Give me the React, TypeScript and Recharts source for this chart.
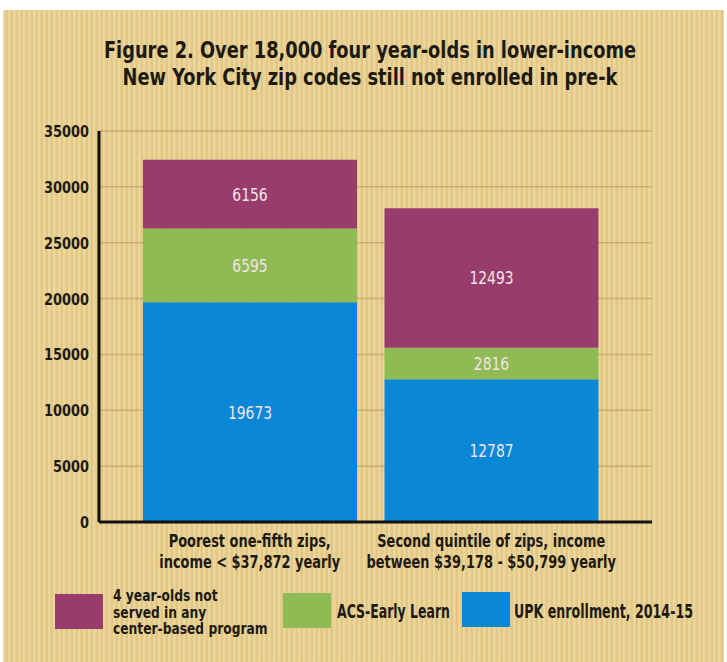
import React from "react";
import {
  BarChart,
  Bar,
  XAxis,
  YAxis,
  CartesianGrid,
  LabelList,
} from "recharts";

// Zip code groups (x categories), two-line labels
const categories = ["Poorest one-fifth zips", "Second quintile of zips"];
const categoryLines = [
  ["Poorest one-fifth zips,", "income < $37,872 yearly"],
  ["Second quintile of zips, income", "between $39,178 - $50,799 yearly"],
];

// Stacked series, bottom to top
const upkEnrollment = [19673, 12787];
const acsEarlyLearn = [6595, 2816];
const notServed = [6156, 12493];

const yTicks = [0, 5000, 10000, 15000, 20000, 25000, 30000, 35000];

const titleLines = [
  "Figure 2. Over 18,000 four year-olds in lower-income",
  "New York City zip codes still not enrolled in pre-k",
];

const FONT = "'DejaVu Sans Condensed', 'DejaVu Sans', sans-serif";
const INK = "#1d1a14";
const PURPLE = "#983d6b";
const GREEN = "#8fbb55";
const BLUE = "#0b88d5";

const chartData = categories.map((name, i) => ({
  name,
  upk: upkEnrollment[i],
  acs: acsEarlyLearn[i],
  notServed: notServed[i],
}));

// the original uses a condensed face, so glyphs get squeezed horizontally
function CategoryTick(props: any) {
  const { x, y, index } = props;
  const lines = categoryLines[index] || [];
  return (
    <g transform={`translate(${x},${y + 17}) scale(0.8,1)`}>
      <text x={0} y={0} textAnchor="middle" fill={INK} fontFamily={FONT} fontWeight="bold" fontSize={18}>
        {lines.map((line, i) => (
          <tspan key={i} x={0} dy={i === 0 ? 0 : 21}>
            {line}
          </tspan>
        ))}
      </text>
    </g>
  );
}

function ValueTick(props: any) {
  const { x, y, payload } = props;
  return (
    <g transform={`translate(${x},${y}) scale(0.87,1)`}>
      <text x={0} y={0} dy="0.36em" textAnchor="end" fill={INK} fontFamily={FONT} fontWeight="bold" fontSize={16.5}>
        {payload.value}
      </text>
    </g>
  );
}

function SegmentLabel(props: any) {
  const { x, y, width, height, value } = props;
  return (
    <g transform={`translate(${x + width / 2},${y + height / 2}) scale(0.86,1)`}>
      <text x={0} y={0} dy="0.36em" textAnchor="middle" fill="#f1e4e8" fontFamily={FONT} fontSize={18}>
        {value}
      </text>
    </g>
  );
}

const legendItems = [
  { key: "notServed", color: PURPLE, lines: ["4 year-olds not", "served in any", "center-based program"] },
  { key: "acs", color: GREEN, lines: ["ACS-Early Learn"] },
  { key: "upk", color: BLUE, lines: ["UPK enrollment, 2014-15"] },
];
const legendSwatch = [
  { left: 55, top: 594, textLeft: 113, textTop: 588, size: 15.5, lh: 16.5, sx: 0.88 },
  { left: 283, top: 593, textLeft: 337, textTop: 601, size: 19, lh: 20, sx: 0.73 },
  { left: 462, top: 592, textLeft: 514, textTop: 601, size: 19, lh: 20, sx: 0.74 },
];

function ChartLegend() {
  return (
    <>
      {legendItems.map((item, i) => {
        const p = legendSwatch[i];
        return (
          <React.Fragment key={item.key}>
            <div
              style={{
                position: "absolute",
                left: p.left,
                top: p.top,
                width: 48,
                height: 35,
                background: item.color,
              }}
            />
            <div
              style={{
                position: "absolute",
                left: p.textLeft,
                top: p.textTop,
                whiteSpace: "nowrap",
                fontFamily: FONT,
                fontWeight: "bold",
                fontSize: p.size,
                lineHeight: `${p.lh}px`,
                color: INK,
                transform: `scaleX(${p.sx})`,
                transformOrigin: "0 0",
              }}
            >
              {item.lines.map((l, j) => (
                <div key={j}>{l}</div>
              ))}
            </div>
          </React.Fragment>
        );
      })}
    </>
  );
}

export default function App() {
  return (
    <div
      style={{
        position: "absolute",
        left: 0,
        top: 0,
        width: 727,
        height: 662,
        background: "#ffffff",
        overflow: "hidden",
      }}
    >
      <div
        style={{
          position: "absolute",
          left: 3,
          top: 10,
          width: 721,
          height: 652,
          background:
            "repeating-linear-gradient(90deg, rgba(255,248,215,0.22) 0px, rgba(255,248,215,0.22) 2px, rgba(170,130,60,0.07) 3px, rgba(170,130,60,0.07) 5px), #e6cc8b",
        }}
      />
      <div
        style={{
          position: "absolute",
          left: 0,
          top: 37,
          width: 740,
          textAlign: "center",
          whiteSpace: "nowrap",
          fontFamily: FONT,
          fontWeight: "bold",
          fontSize: 23,
          lineHeight: "27px",
          color: INK,
          transform: "scaleX(0.86)",
          transformOrigin: "370px 0",
        }}
      >
        {titleLines.map((t, i) => (
          <div key={i}>{t}</div>
        ))}
      </div>
      <div style={{ position: "absolute", left: 0, top: 0 }}>
        <BarChart
          width={727}
          height={662}
          data={chartData}
          margin={{ top: 131, right: 75, bottom: 80, left: 39 }}
        >
          <CartesianGrid vertical={false} stroke="rgba(140,100,45,0.3)" strokeWidth={1.5} />
          <XAxis
            dataKey="name"
            height={60}
            padding={{ left: 30, right: 40 }}
            axisLine={{ stroke: "#111", strokeWidth: 3 }}
            tickLine={false}
            tick={<CategoryTick />}
            interval={0}
          />
          <YAxis
            width={60}
            domain={[0, 35000]}
            ticks={yTicks}
            interval={0}
            axisLine={{ stroke: "#111", strokeWidth: 3 }}
            tickLine={false}
            tickMargin={4}
            tick={<ValueTick />}
          />
          <Bar dataKey="upk" stackId="a" fill={BLUE} barSize={214} isAnimationActive={false}>
            <LabelList dataKey="upk" content={<SegmentLabel />} />
          </Bar>
          <Bar dataKey="acs" stackId="a" fill={GREEN} barSize={214} isAnimationActive={false}>
            <LabelList dataKey="acs" content={<SegmentLabel />} />
          </Bar>
          <Bar dataKey="notServed" stackId="a" fill={PURPLE} barSize={214} isAnimationActive={false}>
            <LabelList dataKey="notServed" content={<SegmentLabel />} />
          </Bar>
        </BarChart>
      </div>
      <ChartLegend />
    </div>
  );
}
